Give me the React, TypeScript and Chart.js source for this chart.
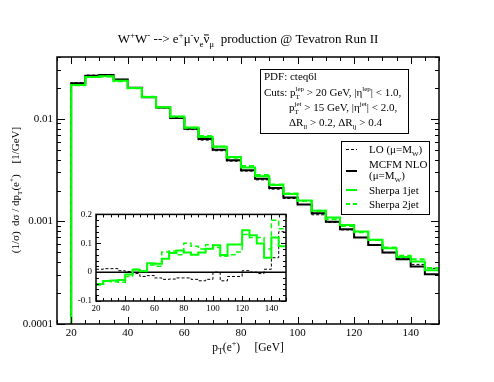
import React, { useEffect, useRef } from 'react';
import { Chart, registerables } from 'chart.js';
Chart.register(...registerables);

const FONT = "'Liberation Serif', 'DejaVu Serif', serif";
const GREEN = '#00ff00';

// bin edges (GeV)
const binEdges = [20, 25, 30, 35, 40, 45, 50, 55, 60, 65, 70, 75, 80, 85, 90, 95, 100, 105, 110, 115, 120, 125, 130, 135, 140, 145, 150];

// main panel: (1/sigma) dsigma/dpT [1/GeV]
const nloMain = [0.0222, 0.0263, 0.0267, 0.0241, 0.0201, 0.0162, 0.0129, 0.0102, 0.0080, 0.00635, 0.0050, 0.00394, 0.00315, 0.0026, 0.00212, 0.00171, 0.00146, 0.0012, 0.00099, 0.00084, 0.000695, 0.000589, 0.000497, 0.000428, 0.000363, 0.000306];
const loMain = [0.02242, 0.02662, 0.02702, 0.02422, 0.02014, 0.01612, 0.01271, 0.01008, 0.00784, 0.00619, 0.00488, 0.00386, 0.00309, 0.00254, 0.00206, 0.00167, 0.00146, 0.00116, 0.000975, 0.000827, 0.000698, 0.000589, 0.000495, 0.000432, 0.000381, 0.000349];
const sherpa1Main = [0.02129, 0.02548, 0.02593, 0.02345, 0.01994, 0.01633, 0.01294, 0.01052, 0.00823, 0.00664, 0.00533, 0.00424, 0.00336, 0.00276, 0.00226, 0.00185, 0.0016, 0.00127, 0.00109, 0.00092, 0.000796, 0.000664, 0.000546, 0.000449, 0.000407, 0.000334];
const sherpa2Main = [0.0212, 0.02551, 0.02582, 0.02326, 0.0198, 0.01636, 0.01296, 0.01046, 0.00816, 0.00679, 0.00537, 0.00418, 0.00347, 0.00283, 0.00229, 0.00187, 0.00158, 0.00127, 0.00105, 0.0009, 0.000785, 0.00066, 0.000557, 0.000462, 0.000428, 0.000352];

// inset: relative deviation from MCFM NLO
const loRatio = [0.01, 0.012, 0.012, 0.005, 0.002, -0.005, -0.015, -0.012, -0.02, -0.025, -0.024, -0.02, -0.02, -0.025, -0.03, -0.025, 0.0, -0.03, -0.015, -0.015, 0.005, 0.0, -0.005, 0.01, 0.05, 0.14];
const nloRatio = [0, 0, 0, 0, 0, 0, 0, 0, 0, 0, 0, 0, 0, 0, 0, 0, 0, 0, 0, 0, 0, 0, 0, 0, 0, 0];
const sherpa1Ratio = [-0.041, -0.031, -0.029, -0.027, -0.008, 0.008, 0.003, 0.031, 0.029, 0.046, 0.066, 0.075, 0.068, 0.06, 0.068, 0.081, 0.093, 0.059, 0.096, 0.096, 0.145, 0.128, 0.099, 0.05, 0.12, 0.09];
const sherpa2Ratio = [-0.045, -0.03, -0.033, -0.035, -0.015, 0.01, 0.005, 0.025, 0.02, 0.07, 0.073, 0.06, 0.1, 0.09, 0.08, 0.095, 0.085, 0.055, 0.06, 0.07, 0.13, 0.12, 0.12, 0.08, 0.18, 0.15];

// tick labels
const xMajorTicks = [20, 40, 60, 80, 100, 120, 140];
const yMajorTicks = [0.0001, 0.001, 0.01];
const yTickLabels = ['0.0001', '0.001', '0.01'];
const insetYTicks = [-0.1, 0, 0.1, 0.2];
const insetYLabels = ['-0.1', '0', '0.1', '0.2'];

type Seg = { t: string; k?: 'sup' | 'sub'; stack?: boolean; over?: boolean };

function drawRich(ctx: CanvasRenderingContext2D, segs: Seg[], x: number, y: number, size: number, align: 'left' | 'center') {
  const fontFor = (k?: string) => `${k ? Math.round(size * 0.68) : size}px ${FONT}`;
  let cx = 0;
  let prevStart = 0;
  const items: any[] = [];
  for (const s of segs) {
    ctx.font = fontFor(s.k);
    const w = ctx.measureText(s.t).width;
    let sx: number;
    if (s.stack) {
      sx = prevStart;
      cx = Math.max(cx, prevStart + w);
    } else {
      sx = cx;
      cx += w;
    }
    prevStart = sx;
    items.push({ ...s, sx, w });
  }
  const x0 = align === 'center' ? x - cx / 2 : x;
  ctx.textAlign = 'left';
  ctx.textBaseline = 'alphabetic';
  ctx.fillStyle = '#000';
  for (const it of items) {
    ctx.font = fontFor(it.k);
    const dy = it.k === 'sup' ? -size * 0.42 : it.k === 'sub' ? size * 0.28 : 0;
    ctx.fillText(it.t, x0 + it.sx, y + dy);
    if (it.over) {
      ctx.beginPath();
      ctx.lineWidth = 1;
      ctx.strokeStyle = '#000';
      ctx.moveTo(x0 + it.sx + 0.5, y - size * 0.62);
      ctx.lineTo(x0 + it.sx + it.w - 0.5, y - size * 0.62);
      ctx.stroke();
    }
  }
  return cx;
}

function stepPoints(values: number[], floor?: number) {
  const pts: { x: number; y: number }[] = [];
  if (floor !== undefined) pts.push({ x: binEdges[0], y: floor });
  values.forEach((v, i) => pts.push({ x: binEdges[i], y: v }));
  pts.push({ x: binEdges[binEdges.length - 1], y: values[values.length - 1] });
  return pts;
}

function seg(ctx: CanvasRenderingContext2D, x1: number, y1: number, x2: number, y2: number) {
  ctx.beginPath();
  ctx.moveTo(x1, y1);
  ctx.lineTo(x2, y2);
  ctx.stroke();
}

const mainDecor = {
  id: 'mainDecor',
  afterDraw(chart: any) {
    const { ctx, chartArea: a, scales } = chart;
    const xs = scales.x;
    const ys = scales.y;
    ctx.save();
    ctx.strokeStyle = '#000';
    ctx.lineWidth = 1;
    for (let v = 15; v <= 150; v += 5) {
      const px = Math.round(xs.getPixelForValue(v)) + 0.5;
      const len = v % 20 === 0 ? 7 : 4;
      seg(ctx, px, a.bottom, px, a.bottom - len);
      seg(ctx, px, a.top, px, a.top + len);
    }
    for (let e = -4; e <= -2; e++) {
      for (let m = 1; m <= 9; m++) {
        const v = m * Math.pow(10, e);
        if (v > 0.04) continue;
        const py = Math.round(ys.getPixelForValue(v)) + 0.5;
        const len = m === 1 ? 8 : 4;
        seg(ctx, a.left, py, a.left + len, py);
        seg(ctx, a.right, py, a.right - len, py);
      }
    }
    ctx.lineWidth = 1.5;
    ctx.strokeRect(a.left, a.top, a.right - a.left, a.bottom - a.top);

    // title
    drawRich(ctx, [
      { t: 'W' }, { t: '+', k: 'sup' }, { t: 'W' }, { t: '-', k: 'sup' }, { t: ' --> e' }, { t: '+', k: 'sup' },
      { t: 'μ' }, { t: '-', k: 'sup' }, { t: 'ν' }, { t: 'e', k: 'sub' }, { t: 'ν', over: true }, { t: 'μ', k: 'sub' },
      { t: '  production @ Tevatron Run II' },
    ], 248, 43, 13, 'center');

    // x title
    drawRich(ctx, [{ t: 'p' }, { t: 'T', k: 'sub' }, { t: '(e' }, { t: '+', k: 'sup' }, { t: ')     [GeV]' }], 248, 351, 11.5, 'center');

    // y title
    ctx.save();
    ctx.translate(19, 190);
    ctx.rotate(-Math.PI / 2);
    drawRich(ctx, [{ t: '(1/σ)  dσ / dp' }, { t: 'T', k: 'sub' }, { t: '(e' }, { t: '+', k: 'sup' }, { t: ')    [1/GeV]' }], 0, 0, 11, 'center');
    ctx.restore();

    // info box
    ctx.lineWidth = 1;
    ctx.strokeStyle = '#000';
    ctx.strokeRect(260.5, 69.5, 148, 64);
    const inf = 11;
    drawRich(ctx, [{ t: 'PDF: cteq6l' }], 264, 80, inf, 'left');
    drawRich(ctx, [{ t: 'Cuts: p' }, { t: 'T', k: 'sub' }, { t: 'lep', k: 'sup', stack: true }, { t: ' > 20 GeV, |η' }, { t: 'lep', k: 'sup' }, { t: '| < 1.0,' }], 264, 96, inf, 'left');
    drawRich(ctx, [{ t: 'p' }, { t: 'T', k: 'sub' }, { t: 'jet', k: 'sup', stack: true }, { t: ' > 15 GeV, |η' }, { t: 'jet', k: 'sup' }, { t: '| < 2.0,' }], 289, 111, inf, 'left');
    drawRich(ctx, [{ t: 'ΔR' }, { t: 'll', k: 'sub' }, { t: ' > 0.2, ΔR' }, { t: 'lj', k: 'sub' }, { t: ' > 0.4' }], 289, 126, inf, 'left');

    // legend
    ctx.strokeRect(341.5, 141.5, 88, 73);
    const sample = (y: number, color: string, w: number, dash: number[]) => {
      ctx.save();
      ctx.strokeStyle = color;
      ctx.lineWidth = w;
      ctx.setLineDash(dash);
      seg(ctx, 346, y, 357, y);
      ctx.restore();
    };
    const lf = 11;
    sample(149.5, '#000', 1, [3, 2]);
    drawRich(ctx, [{ t: 'LO (μ=M' }, { t: 'W', k: 'sub' }, { t: ')' }], 369, 153, lf, 'left');
    sample(171, '#000', 2, []);
    drawRich(ctx, [{ t: 'MCFM NLO' }], 369, 168, lf, 'left');
    drawRich(ctx, [{ t: '(μ=M' }, { t: 'W', k: 'sub' }, { t: ')' }], 369, 179, lf, 'left');
    sample(190, GREEN, 2, []);
    drawRich(ctx, [{ t: 'Sherpa 1jet' }], 369, 194, lf, 'left');
    sample(204, GREEN, 2, [4, 3]);
    drawRich(ctx, [{ t: 'Sherpa 2jet' }], 369, 208, lf, 'left');
    ctx.restore();
  },
};

const insetDecor = {
  id: 'insetDecor',
  beforeDatasetsDraw(chart: any) {
    const { ctx, chartArea: a } = chart;
    ctx.save();
    ctx.fillStyle = '#fff';
    ctx.fillRect(a.left, a.top, a.right - a.left, a.bottom - a.top);
    ctx.restore();
  },
  afterDraw(chart: any) {
    const { ctx, chartArea: a, scales } = chart;
    const xs = scales.x;
    const ys = scales.y;
    ctx.save();
    ctx.strokeStyle = '#000';
    ctx.lineWidth = 1;
    for (let v = 20; v <= 150; v += 5) {
      const px = Math.round(xs.getPixelForValue(v)) + 0.5;
      const len = v % 20 === 0 ? 5 : 3;
      seg(ctx, px, a.bottom, px, a.bottom - len);
      seg(ctx, px, a.top, px, a.top + len);
    }
    for (let i = -5; i <= 10; i++) {
      const v = i * 0.02;
      const py = Math.round(ys.getPixelForValue(v)) + 0.5;
      const len = i % 5 === 0 ? 5 : 3;
      seg(ctx, a.left, py, a.left + len, py);
      seg(ctx, a.right, py, a.right - len, py);
    }
    ctx.lineWidth = 1.5;
    ctx.strokeRect(a.left, a.top, a.right - a.left, a.bottom - a.top);
    ctx.restore();
  },
};

export default function App() {
  const mainRef = useRef<HTMLCanvasElement>(null);
  const insetRef = useRef<HTMLCanvasElement>(null);

  useEffect(() => {
    const tickFont = { family: FONT, size: 11 };
    const main = new Chart(mainRef.current!, {
      type: 'line',
      data: {
        datasets: [
          { label: 'Sherpa 1jet', data: stepPoints(sherpa1Main, 1e-6), borderColor: GREEN, borderWidth: 2, stepped: 'before' },
          { label: 'Sherpa 2jet', data: stepPoints(sherpa2Main, 1e-6), borderColor: GREEN, borderWidth: 2, borderDash: [5, 3], stepped: 'before' },
          { label: 'MCFM NLO', data: stepPoints(nloMain, 1e-6), borderColor: '#000', borderWidth: 2, stepped: 'before' },
          { label: 'LO', data: stepPoints(loMain, 1e-6), borderColor: '#000', borderWidth: 1, borderDash: [3, 2], stepped: 'before' },
        ] as any,
      },
      options: {
        animation: false,
        responsive: false,
        devicePixelRatio: 1,
        layout: { padding: { left: 0, top: 57, right: 55, bottom: 0 } },
        plugins: { legend: { display: false }, tooltip: { enabled: false }, title: { display: false } },
        elements: { point: { radius: 0 }, line: { tension: 0 } },
        scales: {
          x: {
            type: 'linear', min: 15, max: 150,
            afterFit: (s: any) => { s.height = 58; },
            afterBuildTicks: (s: any) => { s.ticks = xMajorTicks.map((v) => ({ value: v })); },
            grid: { display: false, drawTicks: false },
            border: { display: false },
            ticks: { font: tickFont, color: '#000', padding: 3, maxRotation: 0, autoSkip: false, callback: (v: any) => String(v) },
          },
          y: {
            type: 'logarithmic', min: 0.0001, max: 0.04,
            afterFit: (s: any) => { s.width = 57; },
            afterBuildTicks: (s: any) => { s.ticks = yMajorTicks.map((v) => ({ value: v })); },
            grid: { display: false, drawTicks: false },
            border: { display: false },
            ticks: { font: tickFont, color: '#000', padding: 4, autoSkip: false, callback: (_v: any, i: number) => yTickLabels[i] },
          },
        },
      } as any,
      plugins: [mainDecor],
    });

    const insetFont = { family: FONT, size: 9 };
    const inset = new Chart(insetRef.current!, {
      type: 'line',
      data: {
        datasets: [
          { label: 'Sherpa 1jet', data: stepPoints(sherpa1Ratio), borderColor: GREEN, borderWidth: 2, stepped: 'before' },
          { label: 'Sherpa 2jet', data: stepPoints(sherpa2Ratio), borderColor: GREEN, borderWidth: 1.5, borderDash: [5, 3], stepped: 'before' },
          { label: 'MCFM NLO', data: stepPoints(nloRatio), borderColor: '#000', borderWidth: 1.5, stepped: 'before' },
          { label: 'LO', data: stepPoints(loRatio), borderColor: '#000', borderWidth: 1, borderDash: [3, 2], stepped: 'before' },
        ] as any,
      },
      options: {
        animation: false,
        responsive: false,
        devicePixelRatio: 1,
        layout: { padding: { left: 0, top: 9, right: 14, bottom: 0 } },
        plugins: { legend: { display: false }, tooltip: { enabled: false }, title: { display: false } },
        elements: { point: { radius: 0 }, line: { tension: 0 } },
        scales: {
          x: {
            type: 'linear', min: 20, max: 150,
            afterFit: (s: any) => { s.height = 19; },
            afterBuildTicks: (s: any) => { s.ticks = xMajorTicks.map((v) => ({ value: v })); },
            grid: { display: false, drawTicks: false },
            border: { display: false },
            ticks: { font: insetFont, color: '#000', padding: 2, maxRotation: 0, autoSkip: false, callback: (v: any) => String(v) },
          },
          y: {
            type: 'linear', min: -0.1, max: 0.2,
            afterFit: (s: any) => { s.width = 26; },
            afterBuildTicks: (s: any) => { s.ticks = insetYTicks.map((v) => ({ value: v })); },
            grid: { display: false, drawTicks: false },
            border: { display: false },
            ticks: { font: insetFont, color: '#000', padding: 4, autoSkip: false, callback: (_v: any, i: number) => insetYLabels[i] },
          },
        },
      } as any,
      plugins: [insetDecor],
    });

    return () => {
      main.destroy();
      inset.destroy();
    };
  }, []);

  return (
    <div style={{ position: 'fixed', left: 0, top: 0, width: 494, height: 382, background: '#fff', overflow: 'hidden' }}>
      <canvas ref={mainRef} width={494} height={382} style={{ position: 'absolute', left: 0, top: 0, width: 494, height: 382 }} />
      <canvas ref={insetRef} width={230} height={115} style={{ position: 'absolute', left: 70, top: 205, width: 230, height: 115 }} />
    </div>
  );
}
